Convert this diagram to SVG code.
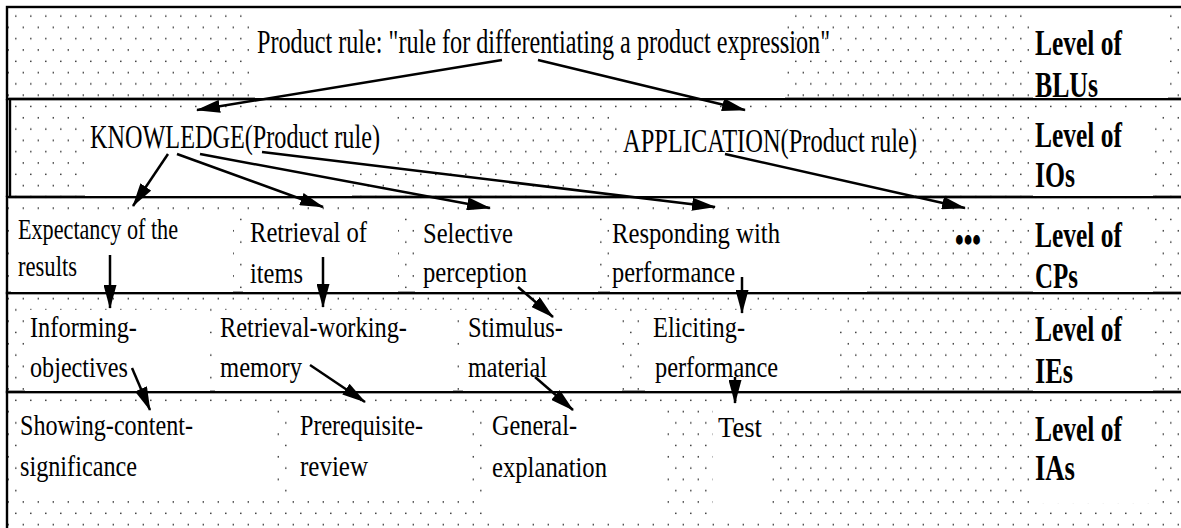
<svg xmlns="http://www.w3.org/2000/svg" width="1181" height="528" viewBox="0 0 1181 528">
<style>
.band{fill:url(#dots);stroke:#000;stroke-width:2.4}
.box{fill:#fff;stroke:none}
.t{font-family:"Liberation Serif","Times New Roman",serif;font-size:30px;fill:#000}
.tl{font-family:"Liberation Serif","Times New Roman",serif;font-size:33px;fill:#000}
.lv{font-family:"Liberation Serif","Times New Roman",serif;font-size:35px;font-weight:bold;fill:#000}
.c line{stroke:#000;stroke-width:2.5;marker-end:url(#ah)}
</style>
<defs>
<pattern id="dots" patternUnits="userSpaceOnUse" x="0" y="0" width="15" height="22.6">
<rect x="0.1" y="15.4" width="1.4" height="1.4" fill="#222"/>
<rect x="7.6" y="4.1" width="1.4" height="1.4" fill="#222"/>
</pattern>
<marker id="ah" markerUnits="userSpaceOnUse" markerWidth="24" markerHeight="13" refX="23" refY="6.5" orient="auto">
<path d="M0,0 L24,6.5 L0,13 Z" fill="#000"/>
</marker>
</defs>
<rect x="0" y="0" width="1181" height="528" fill="#fff"/>
<g id="bands">
<rect class="band" x="7" y="7" width="1190" height="92"/>
<rect class="band" x="10" y="99" width="1190" height="98"/>
<line x1="7" y1="99" x2="7" y2="197" stroke="#000" stroke-width="2.4"/>
<rect class="band" x="7" y="197" width="1190" height="96"/>
<rect class="band" x="7" y="293" width="1190" height="99"/>
<rect class="band" x="7" y="392" width="1190" height="150"/>
</g>
<g id="blu">
<rect class="box" x="255" y="14" width="530" height="84"/>
<text class="tl" x="257" y="53" textLength="573" lengthAdjust="spacingAndGlyphs">Product rule: "rule for differentiating a product expression"</text>
</g>
<g id="level-blus">
<rect class="box" x="1033" y="14" width="135" height="84"/>
<text class="lv" x="1035" y="55" textLength="87" lengthAdjust="spacingAndGlyphs">Level of</text>
<text class="lv" x="1035" y="97" textLength="63" lengthAdjust="spacingAndGlyphs">BLUs</text>
</g>
<g id="knowledge">
<path class="box" d="M85,114 H395 V165 H352 V196 H85 Z"/>
<text class="tl" x="90" y="148" textLength="290" lengthAdjust="spacingAndGlyphs">KNOWLEDGE(Product rule)</text>
</g>
<g id="application">
<rect class="box" x="617" y="114" width="298" height="82"/>
<text class="tl" x="623" y="152" textLength="294" lengthAdjust="spacingAndGlyphs">APPLICATION(Product rule)</text>
</g>
<g id="level-ios">
<rect class="box" x="1033" y="114" width="120" height="82"/>
<text class="lv" x="1035" y="147" textLength="87" lengthAdjust="spacingAndGlyphs">Level of</text>
<text class="lv" x="1035" y="187" textLength="40" lengthAdjust="spacingAndGlyphs">IOs</text>
</g>
<g id="expectancy">
<rect class="box" x="11" y="212" width="222" height="80"/>
<text class="t" x="18" y="239" textLength="160" lengthAdjust="spacingAndGlyphs">Expectancy of the</text>
<text class="t" x="18" y="276" textLength="59" lengthAdjust="spacingAndGlyphs">results</text>
</g>
<g id="retrieval-items">
<rect class="box" x="243" y="212" width="155" height="80"/>
<text class="t" x="250" y="242" textLength="117" lengthAdjust="spacingAndGlyphs">Retrieval of</text>
<text class="t" x="250" y="283" textLength="53" lengthAdjust="spacingAndGlyphs">items</text>
</g>
<g id="selective">
<rect class="box" x="415" y="212" width="183" height="80"/>
<text class="t" x="423" y="243" textLength="90" lengthAdjust="spacingAndGlyphs">Selective</text>
<text class="t" x="423" y="282" textLength="104" lengthAdjust="spacingAndGlyphs">perception</text>
</g>
<g id="responding">
<rect class="box" x="610" y="212" width="257" height="80"/>
<text class="t" x="612" y="243" textLength="168" lengthAdjust="spacingAndGlyphs">Responding with</text>
<text class="t" x="612" y="282" textLength="123" lengthAdjust="spacingAndGlyphs">performance</text>
</g>
<g id="ellipsis">
<text class="lv" x="955" y="252" font-size="30" textLength="26" lengthAdjust="spacingAndGlyphs">•••</text>
</g>
<g id="level-cps">
<rect class="box" x="1033" y="212" width="120" height="80"/>
<text class="lv" x="1035" y="247" textLength="87" lengthAdjust="spacingAndGlyphs">Level of</text>
<text class="lv" x="1035" y="288" textLength="43" lengthAdjust="spacingAndGlyphs">CPs</text>
</g>
<g id="informing">
<rect class="box" x="25" y="310" width="185" height="81"/>
<text class="t" x="30" y="337" textLength="107" lengthAdjust="spacingAndGlyphs">Informing-</text>
<text class="t" x="30" y="377" textLength="98" lengthAdjust="spacingAndGlyphs">objectives</text>
</g>
<g id="retrieval-working">
<rect class="box" x="215" y="310" width="238" height="81"/>
<text class="t" x="220" y="337" textLength="187" lengthAdjust="spacingAndGlyphs">Retrieval-working-</text>
<text class="t" x="220" y="377" textLength="82" lengthAdjust="spacingAndGlyphs">memory</text>
</g>
<g id="stimulus">
<rect class="box" x="463" y="310" width="159" height="81"/>
<text class="t" x="468" y="337" textLength="95" lengthAdjust="spacingAndGlyphs">Stimulus-</text>
<text class="t" x="468" y="377" textLength="79" lengthAdjust="spacingAndGlyphs">material</text>
</g>
<g id="eliciting">
<rect class="box" x="645" y="310" width="195" height="81"/>
<text class="t" x="653" y="337" textLength="92" lengthAdjust="spacingAndGlyphs">Eliciting-</text>
<text class="t" x="655" y="377" textLength="123" lengthAdjust="spacingAndGlyphs">performance</text>
</g>
<g id="level-ies">
<rect class="box" x="1033" y="310" width="120" height="81"/>
<text class="lv" x="1035" y="341" textLength="87" lengthAdjust="spacingAndGlyphs">Level of</text>
<text class="lv" x="1035" y="383" textLength="38" lengthAdjust="spacingAndGlyphs">IEs</text>
</g>
<g id="showing">
<rect class="box" x="18" y="410" width="254" height="86"/>
<text class="t" x="20" y="435" textLength="173" lengthAdjust="spacingAndGlyphs">Showing-content-</text>
<text class="t" x="20" y="476" textLength="117" lengthAdjust="spacingAndGlyphs">significance</text>
</g>
<g id="prerequisite">
<rect class="box" x="292" y="410" width="175" height="86"/>
<text class="t" x="300" y="435" textLength="123" lengthAdjust="spacingAndGlyphs">Prerequisite-</text>
<text class="t" x="300" y="476" textLength="68" lengthAdjust="spacingAndGlyphs">review</text>
</g>
<g id="general">
<rect class="box" x="482" y="410" width="181" height="105"/>
<text class="t" x="492" y="435" textLength="85" lengthAdjust="spacingAndGlyphs">General-</text>
<text class="t" x="492" y="477" textLength="115" lengthAdjust="spacingAndGlyphs">explanation</text>
</g>
<g id="test">
<rect class="box" x="713" y="410" width="54" height="105"/>
<text class="t" x="718" y="437" textLength="44" lengthAdjust="spacingAndGlyphs">Test</text>
</g>
<g id="level-ias">
<rect class="box" x="1033" y="410" width="120" height="93"/>
<text class="lv" x="1035" y="441" textLength="87" lengthAdjust="spacingAndGlyphs">Level of</text>
<text class="lv" x="1035" y="480" textLength="40" lengthAdjust="spacingAndGlyphs">IAs</text>
</g>
<g id="connectors" class="c">
<line x1="502" y1="60" x2="197" y2="110"/>
<line x1="538" y1="60" x2="745" y2="110"/>
<line x1="168" y1="154" x2="133" y2="206"/>
<line x1="177" y1="154" x2="323" y2="207"/>
<line x1="200" y1="154" x2="490" y2="208"/>
<line x1="262" y1="152" x2="715" y2="207"/>
<line x1="725" y1="154" x2="965" y2="208"/>
<line x1="110" y1="255" x2="110" y2="308"/>
<line x1="323" y1="257" x2="323" y2="307"/>
<line x1="518" y1="287" x2="553" y2="317"/>
<line x1="742" y1="277" x2="742" y2="313"/>
<line x1="132" y1="368" x2="150" y2="410"/>
<line x1="310" y1="365" x2="365" y2="402"/>
<line x1="535" y1="377" x2="573" y2="410"/>
<line x1="735" y1="377" x2="735" y2="403"/>
</g>
</svg>
